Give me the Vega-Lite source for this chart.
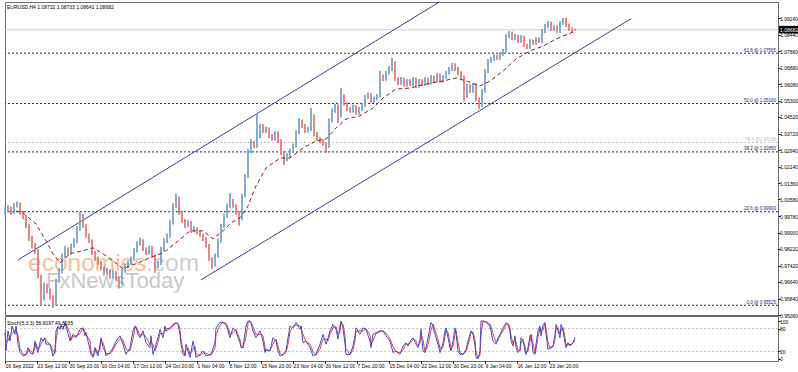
{
"$schema": "https://vega.github.io/schema/vega-lite/v6.json",
"padding": {"left": 2, "top": 1, "right": 0, "bottom": 0},
"background": "#ffffff",
"spacing": 1,
"bounds": "flush",
"config": {
  "view": {"stroke": "#6b6b6b", "strokeWidth": 1},
  "axis": {"labelFont": "Liberation Sans", "labelFontSize": 5, "labelColor": "#000000", "tickColor": "#000000", "tickSize": 2, "domain": false, "grid": false, "labelPadding": -0.5, "labelOverlap": false, "labelBound": false, "labelFlush": false},
  "text": {"font": "Liberation Sans"}
},
"datasets": {
  "px": [
    {"i":0,"o":0.9994,"h":1.0022,"l":0.9985,"c":1.0003},
    {"i":3,"o":1.0003,"h":1.0030,"l":0.9995,"c":1.0018},
    {"i":6,"o":1.0018,"h":1.0025,"l":0.9985,"c":0.9994},
    {"i":9,"o":0.9994,"h":1.0040,"l":0.9988,"c":1.0032},
    {"i":12,"o":1.0032,"h":1.0048,"l":1.0020,"c":1.0037},
    {"i":15,"o":1.0037,"h":1.0042,"l":0.9985,"c":0.9994},
    {"i":18,"o":0.9994,"h":1.0003,"l":0.9965,"c":0.9975},
    {"i":21,"o":0.9975,"h":0.9982,"l":0.9922,"c":0.9932},
    {"i":24,"o":0.9932,"h":0.9940,"l":0.9860,"c":0.9870},
    {"i":27,"o":0.9870,"h":0.9885,"l":0.9825,"c":0.9837},
    {"i":30,"o":0.9837,"h":0.9850,"l":0.9800,"c":0.9813},
    {"i":33,"o":0.9813,"h":0.9820,"l":0.9680,"c":0.9693},
    {"i":36,"o":0.9693,"h":0.9700,"l":0.9551,"c":0.9584},
    {"i":39,"o":0.9584,"h":0.9660,"l":0.9575,"c":0.9646},
    {"i":42,"o":0.9646,"h":0.9655,"l":0.9610,"c":0.9622},
    {"i":45,"o":0.9622,"h":0.9632,"l":0.9580,"c":0.9593},
    {"i":48,"o":0.9593,"h":0.9600,"l":0.9541,"c":0.9560},
    {"i":51,"o":0.9560,"h":0.9680,"l":0.9550,"c":0.9670},
    {"i":54,"o":0.9670,"h":0.9730,"l":0.9660,"c":0.9717},
    {"i":57,"o":0.9717,"h":0.9800,"l":0.9705,"c":0.9789},
    {"i":60,"o":0.9789,"h":0.9835,"l":0.9780,"c":0.9822},
    {"i":63,"o":0.9822,"h":0.9830,"l":0.9790,"c":0.9803},
    {"i":66,"o":0.9803,"h":0.9848,"l":0.9795,"c":0.9837},
    {"i":69,"o":0.9837,"h":0.9872,"l":0.9828,"c":0.9860},
    {"i":72,"o":0.9860,"h":0.9930,"l":0.9850,"c":0.9918},
    {"i":75,"o":0.9918,"h":0.9999,"l":0.9910,"c":0.9980},
    {"i":78,"o":0.9980,"h":0.9990,"l":0.9922,"c":0.9932},
    {"i":81,"o":0.9932,"h":0.9940,"l":0.9875,"c":0.9884},
    {"i":84,"o":0.9884,"h":0.9895,"l":0.9850,"c":0.9860},
    {"i":87,"o":0.9860,"h":0.9868,"l":0.9792,"c":0.9803},
    {"i":90,"o":0.9803,"h":0.9812,"l":0.9765,"c":0.9774},
    {"i":93,"o":0.9774,"h":0.9785,"l":0.9745,"c":0.9755},
    {"i":96,"o":0.9755,"h":0.9765,"l":0.9718,"c":0.9727},
    {"i":99,"o":0.9727,"h":0.9738,"l":0.9695,"c":0.9703},
    {"i":102,"o":0.9703,"h":0.9730,"l":0.9695,"c":0.9717},
    {"i":105,"o":0.9717,"h":0.9725,"l":0.9680,"c":0.9689},
    {"i":108,"o":0.9689,"h":0.9720,"l":0.9680,"c":0.9708},
    {"i":111,"o":0.9708,"h":0.9715,"l":0.9670,"c":0.9679},
    {"i":114,"o":0.9679,"h":0.9690,"l":0.9632,"c":0.9655},
    {"i":117,"o":0.9655,"h":0.9728,"l":0.9648,"c":0.9717},
    {"i":120,"o":0.9717,"h":0.9752,"l":0.9708,"c":0.9741},
    {"i":123,"o":0.9741,"h":0.9768,"l":0.9730,"c":0.9755},
    {"i":126,"o":0.9755,"h":0.9786,"l":0.9745,"c":0.9774},
    {"i":129,"o":0.9774,"h":0.9825,"l":0.9765,"c":0.9813},
    {"i":132,"o":0.9813,"h":0.9858,"l":0.9805,"c":0.9846},
    {"i":135,"o":0.9846,"h":0.9875,"l":0.9838,"c":0.9860},
    {"i":138,"o":0.9860,"h":0.9868,"l":0.9812,"c":0.9822},
    {"i":141,"o":0.9822,"h":0.9830,"l":0.9792,"c":0.9803},
    {"i":144,"o":0.9803,"h":0.9838,"l":0.9795,"c":0.9827},
    {"i":147,"o":0.9827,"h":0.9835,"l":0.9780,"c":0.9789},
    {"i":150,"o":0.9789,"h":0.9795,"l":0.9708,"c":0.9741},
    {"i":153,"o":0.9741,"h":0.9765,"l":0.9730,"c":0.9755},
    {"i":156,"o":0.9755,"h":0.9832,"l":0.9745,"c":0.9822},
    {"i":159,"o":0.9822,"h":0.9872,"l":0.9812,"c":0.9860},
    {"i":162,"o":0.9860,"h":0.9895,"l":0.9850,"c":0.9884},
    {"i":165,"o":0.9884,"h":0.9958,"l":0.9875,"c":0.9946},
    {"i":168,"o":0.9946,"h":1.0040,"l":0.9938,"c":1.0027},
    {"i":171,"o":1.0027,"h":1.0085,"l":1.0018,"c":1.0066},
    {"i":174,"o":1.0066,"h":1.0072,"l":0.9985,"c":0.9994},
    {"i":177,"o":0.9994,"h":1.0003,"l":0.9946,"c":0.9956},
    {"i":180,"o":0.9956,"h":0.9965,"l":0.9922,"c":0.9932},
    {"i":183,"o":0.9932,"h":0.9958,"l":0.9925,"c":0.9946},
    {"i":186,"o":0.9946,"h":0.9955,"l":0.9898,"c":0.9908},
    {"i":189,"o":0.9908,"h":0.9930,"l":0.9900,"c":0.9918},
    {"i":192,"o":0.9918,"h":0.9925,"l":0.9890,"c":0.9899},
    {"i":195,"o":0.9899,"h":0.9908,"l":0.9880,"c":0.9889},
    {"i":198,"o":0.9889,"h":0.9895,"l":0.9860,"c":0.9870},
    {"i":201,"o":0.9870,"h":0.9878,"l":0.9828,"c":0.9837},
    {"i":204,"o":0.9837,"h":0.9845,"l":0.9765,"c":0.9774},
    {"i":207,"o":0.9774,"h":0.9782,"l":0.9727,"c":0.9746},
    {"i":210,"o":0.9746,"h":0.9800,"l":0.9738,"c":0.9789},
    {"i":213,"o":0.9789,"h":0.9872,"l":0.9780,"c":0.9860},
    {"i":216,"o":0.9860,"h":0.9942,"l":0.9850,"c":0.9932},
    {"i":219,"o":0.9932,"h":0.9990,"l":0.9922,"c":0.9980},
    {"i":222,"o":0.9980,"h":1.0038,"l":0.9970,"c":1.0027},
    {"i":225,"o":1.0027,"h":1.0089,"l":1.0018,"c":1.0051},
    {"i":228,"o":1.0051,"h":1.0060,"l":1.0018,"c":1.0027},
    {"i":231,"o":1.0027,"h":1.0035,"l":0.9985,"c":0.9994},
    {"i":234,"o":0.9994,"h":1.0003,"l":0.9932,"c":0.9965},
    {"i":237,"o":0.9965,"h":1.0085,"l":0.9958,"c":1.0075},
    {"i":240,"o":1.0075,"h":1.0180,"l":1.0068,"c":1.0170},
    {"i":243,"o":1.0170,"h":1.0300,"l":1.0160,"c":1.0290},
    {"i":246,"o":1.0290,"h":1.0345,"l":1.0280,"c":1.0328},
    {"i":249,"o":1.0328,"h":1.0338,"l":1.0302,"c":1.0313},
    {"i":252,"o":1.0313,"h":1.0471,"l":1.0305,"c":1.0361},
    {"i":255,"o":1.0361,"h":1.0420,"l":1.0350,"c":1.0409},
    {"i":258,"o":1.0409,"h":1.0418,"l":1.0375,"c":1.0385},
    {"i":261,"o":1.0385,"h":1.0405,"l":1.0375,"c":1.0394},
    {"i":264,"o":1.0394,"h":1.0402,"l":1.0350,"c":1.0361},
    {"i":267,"o":1.0361,"h":1.0370,"l":1.0338,"c":1.0347},
    {"i":270,"o":1.0347,"h":1.0385,"l":1.0338,"c":1.0375},
    {"i":273,"o":1.0375,"h":1.0382,"l":1.0328,"c":1.0337},
    {"i":276,"o":1.0337,"h":1.0345,"l":1.0270,"c":1.0280},
    {"i":279,"o":1.0280,"h":1.0290,"l":1.0223,"c":1.0251},
    {"i":282,"o":1.0251,"h":1.0278,"l":1.0240,"c":1.0266},
    {"i":285,"o":1.0266,"h":1.0300,"l":1.0258,"c":1.0290},
    {"i":288,"o":1.0290,"h":1.0325,"l":1.0282,"c":1.0313},
    {"i":291,"o":1.0313,"h":1.0388,"l":1.0305,"c":1.0375},
    {"i":294,"o":1.0375,"h":1.0447,"l":1.0368,"c":1.0433},
    {"i":297,"o":1.0433,"h":1.0440,"l":1.0400,"c":1.0409},
    {"i":300,"o":1.0409,"h":1.0418,"l":1.0375,"c":1.0385},
    {"i":303,"o":1.0385,"h":1.0405,"l":1.0378,"c":1.0394},
    {"i":306,"o":1.0394,"h":1.0495,"l":1.0385,"c":1.0457},
    {"i":309,"o":1.0457,"h":1.0465,"l":1.0360,"c":1.0371},
    {"i":312,"o":1.0371,"h":1.0380,"l":1.0338,"c":1.0347},
    {"i":315,"o":1.0347,"h":1.0356,"l":1.0328,"c":1.0337},
    {"i":318,"o":1.0337,"h":1.0345,"l":1.0313,"c":1.0323},
    {"i":321,"o":1.0323,"h":1.0332,"l":1.0280,"c":1.0313},
    {"i":324,"o":1.0313,"h":1.0445,"l":1.0305,"c":1.0433},
    {"i":327,"o":1.0433,"h":1.0492,"l":1.0425,"c":1.0481},
    {"i":330,"o":1.0481,"h":1.0515,"l":1.0472,"c":1.0504},
    {"i":333,"o":1.0504,"h":1.0512,"l":1.0423,"c":1.0457},
    {"i":336,"o":1.0457,"h":1.0590,"l":1.0450,"c":1.0552},
    {"i":339,"o":1.0552,"h":1.0560,"l":1.0505,"c":1.0514},
    {"i":342,"o":1.0514,"h":1.0522,"l":1.0480,"c":1.0490},
    {"i":345,"o":1.0490,"h":1.0498,"l":1.0472,"c":1.0481},
    {"i":348,"o":1.0481,"h":1.0510,"l":1.0472,"c":1.0500},
    {"i":351,"o":1.0500,"h":1.0508,"l":1.0462,"c":1.0471},
    {"i":354,"o":1.0471,"h":1.0500,"l":1.0462,"c":1.0490},
    {"i":357,"o":1.0490,"h":1.0520,"l":1.0482,"c":1.0509},
    {"i":360,"o":1.0509,"h":1.0558,"l":1.0500,"c":1.0547},
    {"i":363,"o":1.0547,"h":1.0568,"l":1.0538,"c":1.0557},
    {"i":366,"o":1.0557,"h":1.0565,"l":1.0518,"c":1.0528},
    {"i":369,"o":1.0528,"h":1.0548,"l":1.0520,"c":1.0538},
    {"i":372,"o":1.0538,"h":1.0562,"l":1.0530,"c":1.0552},
    {"i":375,"o":1.0552,"h":1.0671,"l":1.0545,"c":1.0647},
    {"i":378,"o":1.0647,"h":1.0655,"l":1.0624,"c":1.0633},
    {"i":381,"o":1.0633,"h":1.0672,"l":1.0625,"c":1.0662},
    {"i":384,"o":1.0662,"h":1.0695,"l":1.0655,"c":1.0681},
    {"i":387,"o":1.0681,"h":1.0733,"l":1.0672,"c":1.0710},
    {"i":390,"o":1.0710,"h":1.0718,"l":1.0624,"c":1.0633},
    {"i":393,"o":1.0633,"h":1.0642,"l":1.0605,"c":1.0614},
    {"i":396,"o":1.0614,"h":1.0643,"l":1.0606,"c":1.0633},
    {"i":399,"o":1.0633,"h":1.0640,"l":1.0596,"c":1.0604},
    {"i":402,"o":1.0604,"h":1.0633,"l":1.0596,"c":1.0624},
    {"i":405,"o":1.0624,"h":1.0632,"l":1.0600,"c":1.0609},
    {"i":408,"o":1.0609,"h":1.0642,"l":1.0600,"c":1.0633},
    {"i":411,"o":1.0633,"h":1.0640,"l":1.0590,"c":1.0600},
    {"i":414,"o":1.0600,"h":1.0633,"l":1.0592,"c":1.0624},
    {"i":417,"o":1.0624,"h":1.0632,"l":1.0600,"c":1.0609},
    {"i":420,"o":1.0609,"h":1.0642,"l":1.0600,"c":1.0633},
    {"i":423,"o":1.0633,"h":1.0640,"l":1.0605,"c":1.0614},
    {"i":426,"o":1.0614,"h":1.0652,"l":1.0606,"c":1.0643},
    {"i":429,"o":1.0643,"h":1.0650,"l":1.0615,"c":1.0624},
    {"i":432,"o":1.0624,"h":1.0662,"l":1.0616,"c":1.0652},
    {"i":435,"o":1.0652,"h":1.0660,"l":1.0615,"c":1.0624},
    {"i":438,"o":1.0624,"h":1.0652,"l":1.0615,"c":1.0643},
    {"i":441,"o":1.0643,"h":1.0672,"l":1.0635,"c":1.0662},
    {"i":444,"o":1.0662,"h":1.0690,"l":1.0655,"c":1.0681},
    {"i":447,"o":1.0681,"h":1.0710,"l":1.0672,"c":1.0700},
    {"i":450,"o":1.0700,"h":1.0708,"l":1.0672,"c":1.0681},
    {"i":453,"o":1.0681,"h":1.0690,"l":1.0652,"c":1.0662},
    {"i":456,"o":1.0662,"h":1.0670,"l":1.0633,"c":1.0643},
    {"i":459,"o":1.0643,"h":1.0650,"l":1.0528,"c":1.0552},
    {"i":462,"o":1.0552,"h":1.0610,"l":1.0543,"c":1.0600},
    {"i":465,"o":1.0600,"h":1.0608,"l":1.0566,"c":1.0576},
    {"i":468,"o":1.0576,"h":1.0614,"l":1.0568,"c":1.0604},
    {"i":471,"o":1.0604,"h":1.0612,"l":1.0528,"c":1.0538},
    {"i":474,"o":1.0538,"h":1.0546,"l":1.0490,"c":1.0509},
    {"i":477,"o":1.0509,"h":1.0586,"l":1.0500,"c":1.0576},
    {"i":480,"o":1.0576,"h":1.0681,"l":1.0568,"c":1.0671},
    {"i":483,"o":1.0671,"h":1.0729,"l":1.0662,"c":1.0719},
    {"i":486,"o":1.0719,"h":1.0740,"l":1.0710,"c":1.0729},
    {"i":489,"o":1.0729,"h":1.0752,"l":1.0720,"c":1.0743},
    {"i":492,"o":1.0743,"h":1.0750,"l":1.0725,"c":1.0733},
    {"i":495,"o":1.0733,"h":1.0762,"l":1.0725,"c":1.0752},
    {"i":498,"o":1.0752,"h":1.0778,"l":1.0744,"c":1.0767},
    {"i":501,"o":1.0767,"h":1.0848,"l":1.0760,"c":1.0838},
    {"i":504,"o":1.0838,"h":1.0862,"l":1.0828,"c":1.0853},
    {"i":507,"o":1.0853,"h":1.0860,"l":1.0820,"c":1.0829},
    {"i":510,"o":1.0829,"h":1.0848,"l":1.0820,"c":1.0838},
    {"i":513,"o":1.0838,"h":1.0845,"l":1.0805,"c":1.0814},
    {"i":516,"o":1.0814,"h":1.0842,"l":1.0806,"c":1.0833},
    {"i":519,"o":1.0833,"h":1.0840,"l":1.0786,"c":1.0795},
    {"i":522,"o":1.0795,"h":1.0802,"l":1.0776,"c":1.0786},
    {"i":525,"o":1.0786,"h":1.0824,"l":1.0778,"c":1.0814},
    {"i":528,"o":1.0814,"h":1.0822,"l":1.0796,"c":1.0805},
    {"i":531,"o":1.0805,"h":1.0833,"l":1.0796,"c":1.0824},
    {"i":534,"o":1.0824,"h":1.0832,"l":1.0805,"c":1.0814},
    {"i":537,"o":1.0814,"h":1.0872,"l":1.0806,"c":1.0862},
    {"i":540,"o":1.0862,"h":1.0896,"l":1.0853,"c":1.0886},
    {"i":543,"o":1.0886,"h":1.0910,"l":1.0876,"c":1.0900},
    {"i":546,"o":1.0900,"h":1.0908,"l":1.0862,"c":1.0872},
    {"i":549,"o":1.0872,"h":1.0891,"l":1.0862,"c":1.0881},
    {"i":552,"o":1.0881,"h":1.0889,"l":1.0853,"c":1.0862},
    {"i":555,"o":1.0862,"h":1.0910,"l":1.0853,"c":1.0900},
    {"i":558,"o":1.0900,"h":1.0924,"l":1.0891,"c":1.0919},
    {"i":561,"o":1.0919,"h":1.0926,"l":1.0881,"c":1.0891},
    {"i":564,"o":1.0891,"h":1.0898,"l":1.0862,"c":1.0872},
    {"i":567,"o":1.0872,"h":1.0880,"l":1.0853,"c":1.0862},
    {"i":570,"o":1.08732,"h":1.08733,"l":1.08641,"c":1.08682}
  ],
  "ma": [
    {"i":11,"m":1.0003},{"i":18,"m":0.9994},{"i":31,"m":0.9941},{"i":41,"m":0.9860},{"i":48,"m":0.9799},{"i":55,"m":0.9755},{"i":65,"m":0.9799},{"i":78,"m":0.9813},{"i":88,"m":0.9827},{"i":98,"m":0.9799},{"i":108,"m":0.9765},{"i":118,"m":0.9727},{"i":131,"m":0.9751},{"i":145,"m":0.9780},{"i":158,"m":0.9803},{"i":171,"m":0.9851},{"i":185,"m":0.9908},{"i":198,"m":0.9908},{"i":208,"m":0.9870},{"i":218,"m":0.9908},{"i":226,"m":0.9946},{"i":235,"m":0.9970},{"i":243,"m":1.0027},{"i":251,"m":1.0123},{"i":261,"m":1.0208},{"i":275,"m":1.0256},{"i":285,"m":1.0256},{"i":298,"m":1.0304},{"i":311,"m":1.0337},{"i":321,"m":1.0347},{"i":331,"m":1.0399},{"i":341,"m":1.0442},{"i":355,"m":1.0457},{"i":368,"m":1.0495},{"i":378,"m":1.0542},{"i":391,"m":1.0585},{"i":405,"m":1.0590},{"i":421,"m":1.0609},{"i":438,"m":1.0624},{"i":451,"m":1.0638},{"i":461,"m":1.0624},{"i":475,"m":1.0600},{"i":485,"m":1.0624},{"i":498,"m":1.0671},{"i":511,"m":1.0729},{"i":525,"m":1.0767},{"i":538,"m":1.0790},{"i":551,"m":1.0824},{"i":563,"m":1.0848},{"i":570,"m":1.0862}
  ],
  "ch": [
    {"g":"u","i":13,"p":0.9769},{"g":"u","i":435,"p":1.1003},
    {"g":"l","i":196,"p":0.9674},{"g":"l","i":626,"p":1.0921}
  ],
  "fib": [
    {"p":1.07565,"t":"61.8 @ 1.07565","g":"n"},
    {"p":1.0516,"t":"50.0 @ 1.05160","g":"n"},
    {"p":1.03298,"t":"76.4 @1.03298","g":"g"},
    {"p":1.0285,"t":"38.2 @ 1.02850","g":"n"},
    {"p":0.99993,"t":"23.6 @ 0.99993","g":"n"},
    {"p":0.95525,"t":"0.0 @ 0.95525","g":"n"}
  ],
  "st": [
    {"i":0,"k":69,"d":69},{"i":1,"k":21,"d":45},{"i":3,"k":74,"d":48},{"i":5,"k":47,"d":61},{"i":7,"k":87,"d":67},{"i":10,"k":65,"d":76},{"i":11,"k":87,"d":76},{"i":13,"k":39,"d":63},{"i":15,"k":17,"d":28},{"i":18,"k":8,"d":13},{"i":21,"k":12,"d":10},{"i":23,"k":30,"d":21},{"i":25,"k":17,"d":24},{"i":28,"k":12,"d":15},{"i":30,"k":47,"d":30},{"i":31,"k":34,"d":41},{"i":33,"k":17,"d":26},{"i":36,"k":56,"d":37},{"i":38,"k":47,"d":52},{"i":40,"k":56,"d":52},{"i":41,"k":39,"d":48},{"i":45,"k":39,"d":39},{"i":48,"k":8,"d":24},{"i":50,"k":21,"d":15},{"i":51,"k":74,"d":48},{"i":53,"k":87,"d":81},{"i":55,"k":78,"d":83},{"i":56,"k":91,"d":85},{"i":58,"k":78,"d":85},{"i":60,"k":96,"d":87},{"i":61,"k":87,"d":92},{"i":65,"k":47,"d":67},{"i":66,"k":52,"d":50},{"i":68,"k":65,"d":59},{"i":71,"k":56,"d":61},{"i":75,"k":78,"d":67},{"i":78,"k":82,"d":80},{"i":80,"k":61,"d":72},{"i":81,"k":69,"d":65},{"i":85,"k":25,"d":47},{"i":86,"k":12,"d":19},{"i":88,"k":4,"d":8},{"i":90,"k":30,"d":17},{"i":91,"k":21,"d":26},{"i":93,"k":8,"d":15},{"i":95,"k":39,"d":24},{"i":96,"k":56,"d":48},{"i":98,"k":30,"d":43},{"i":100,"k":21,"d":26},{"i":101,"k":8,"d":15},{"i":105,"k":17,"d":13},{"i":108,"k":30,"d":24},{"i":111,"k":47,"d":39},{"i":115,"k":61,"d":54},{"i":118,"k":39,"d":50},{"i":121,"k":12,"d":26},{"i":125,"k":30,"d":21},{"i":128,"k":74,"d":52},{"i":130,"k":87,"d":81},{"i":131,"k":82,"d":85},{"i":133,"k":65,"d":74},{"i":135,"k":56,"d":61},{"i":138,"k":74,"d":65},{"i":141,"k":43,"d":59},{"i":145,"k":30,"d":37},{"i":146,"k":61,"d":46},{"i":148,"k":12,"d":37},{"i":150,"k":30,"d":21},{"i":153,"k":56,"d":43},{"i":155,"k":78,"d":67},{"i":158,"k":56,"d":67},{"i":160,"k":87,"d":72},{"i":161,"k":74,"d":81},{"i":165,"k":82,"d":78},{"i":168,"k":91,"d":87},{"i":171,"k":96,"d":94},{"i":173,"k":91,"d":94},{"i":175,"k":65,"d":78},{"i":176,"k":39,"d":52},{"i":178,"k":12,"d":26},{"i":180,"k":8,"d":10},{"i":181,"k":39,"d":24},{"i":183,"k":21,"d":30},{"i":185,"k":4,"d":13},{"i":188,"k":47,"d":26},{"i":190,"k":21,"d":34},{"i":191,"k":4,"d":13},{"i":195,"k":12,"d":8},{"i":198,"k":21,"d":17},{"i":201,"k":8,"d":15},{"i":206,"k":12,"d":10},{"i":210,"k":43,"d":28},{"i":211,"k":82,"d":63},{"i":215,"k":96,"d":89},{"i":218,"k":96,"d":96},{"i":221,"k":91,"d":94},{"i":223,"k":74,"d":83},{"i":225,"k":56,"d":65},{"i":228,"k":82,"d":69},{"i":231,"k":74,"d":78},{"i":233,"k":56,"d":65},{"i":235,"k":43,"d":50},{"i":236,"k":30,"d":37},{"i":238,"k":30,"d":30},{"i":241,"k":87,"d":59},{"i":243,"k":100,"d":94},{"i":245,"k":100,"d":100},{"i":246,"k":96,"d":98},{"i":248,"k":74,"d":85},{"i":251,"k":56,"d":65},{"i":255,"k":74,"d":65},{"i":258,"k":47,"d":61},{"i":260,"k":17,"d":32},{"i":261,"k":25,"d":21},{"i":265,"k":21,"d":23},{"i":268,"k":56,"d":39},{"i":271,"k":47,"d":52},{"i":273,"k":21,"d":34},{"i":275,"k":8,"d":15},{"i":278,"k":12,"d":10},{"i":281,"k":21,"d":17},{"i":283,"k":56,"d":39},{"i":285,"k":87,"d":72},{"i":288,"k":82,"d":85},{"i":291,"k":96,"d":89},{"i":295,"k":78,"d":87},{"i":296,"k":87,"d":83},{"i":298,"k":43,"d":65},{"i":301,"k":47,"d":45},{"i":305,"k":30,"d":39},{"i":308,"k":8,"d":19},{"i":311,"k":12,"d":10},{"i":315,"k":39,"d":26},{"i":318,"k":65,"d":52},{"i":321,"k":39,"d":52},{"i":323,"k":56,"d":48},{"i":325,"k":74,"d":65},{"i":328,"k":91,"d":83},{"i":331,"k":78,"d":85},{"i":333,"k":52,"d":65},{"i":335,"k":87,"d":70},{"i":336,"k":100,"d":94},{"i":338,"k":82,"d":91},{"i":340,"k":39,"d":61},{"i":341,"k":12,"d":26},{"i":345,"k":12,"d":12},{"i":348,"k":34,"d":23},{"i":350,"k":61,"d":48},{"i":351,"k":82,"d":72},{"i":355,"k":65,"d":74},{"i":358,"k":82,"d":74},{"i":361,"k":78,"d":80},{"i":365,"k":47,"d":63},{"i":366,"k":30,"d":39},{"i":368,"k":65,"d":48},{"i":371,"k":69,"d":67},{"i":375,"k":74,"d":72},{"i":378,"k":74,"d":74},{"i":381,"k":61,"d":68},{"i":385,"k":47,"d":54},{"i":388,"k":17,"d":32},{"i":391,"k":21,"d":19},{"i":395,"k":12,"d":17},{"i":398,"k":34,"d":23},{"i":401,"k":43,"d":39},{"i":403,"k":34,"d":39},{"i":405,"k":47,"d":41},{"i":408,"k":56,"d":52},{"i":411,"k":39,"d":48},{"i":413,"k":30,"d":35},{"i":415,"k":52,"d":41},{"i":416,"k":78,"d":65},{"i":418,"k":21,"d":50},{"i":420,"k":17,"d":19},{"i":423,"k":56,"d":37},{"i":426,"k":96,"d":76},{"i":428,"k":87,"d":92},{"i":430,"k":65,"d":76},{"i":433,"k":39,"d":52},{"i":435,"k":17,"d":28},{"i":438,"k":43,"d":30},{"i":440,"k":74,"d":59},{"i":441,"k":82,"d":78},{"i":443,"k":56,"d":69},{"i":445,"k":30,"d":43},{"i":446,"k":21,"d":26},{"i":448,"k":47,"d":34},{"i":450,"k":82,"d":65},{"i":451,"k":69,"d":76},{"i":453,"k":21,"d":45},{"i":455,"k":12,"d":17},{"i":458,"k":12,"d":12},{"i":461,"k":25,"d":19},{"i":463,"k":47,"d":36},{"i":465,"k":65,"d":56},{"i":466,"k":74,"d":70},{"i":468,"k":65,"d":70},{"i":470,"k":34,"d":50},{"i":471,"k":4,"d":19},{"i":473,"k":0,"d":2},{"i":475,"k":21,"d":11},{"i":476,"k":100,"d":61},{"i":478,"k":100,"d":100},{"i":481,"k":96,"d":98},{"i":485,"k":87,"d":92},{"i":488,"k":47,"d":67},{"i":491,"k":39,"d":43},{"i":493,"k":56,"d":48},{"i":495,"k":65,"d":61},{"i":498,"k":82,"d":74},{"i":501,"k":96,"d":89},{"i":503,"k":91,"d":94},{"i":505,"k":74,"d":83},{"i":506,"k":47,"d":61},{"i":508,"k":34,"d":41},{"i":510,"k":61,"d":48},{"i":511,"k":30,"d":46},{"i":513,"k":17,"d":24},{"i":515,"k":25,"d":21},{"i":516,"k":56,"d":41},{"i":518,"k":47,"d":52},{"i":520,"k":21,"d":34},{"i":521,"k":12,"d":17},{"i":523,"k":30,"d":21},{"i":525,"k":61,"d":46},{"i":526,"k":65,"d":63},{"i":528,"k":17,"d":41},{"i":530,"k":12,"d":15},{"i":531,"k":39,"d":26},{"i":533,"k":74,"d":57},{"i":535,"k":87,"d":81},{"i":536,"k":61,"d":74},{"i":538,"k":91,"d":76},{"i":540,"k":96,"d":94},{"i":541,"k":65,"d":81},{"i":543,"k":25,"d":45},{"i":545,"k":30,"d":28},{"i":548,"k":34,"d":32},{"i":550,"k":65,"d":50},{"i":551,"k":91,"d":78},{"i":553,"k":74,"d":83},{"i":555,"k":56,"d":65},{"i":556,"k":91,"d":74},{"i":558,"k":74,"d":83},{"i":560,"k":43,"d":59},{"i":561,"k":30,"d":37},{"i":563,"k":43,"d":37},{"i":565,"k":34,"d":39},{"i":566,"k":39,"d":37},{"i":568,"k":43,"d":41},{"i":570,"k":56.6,"d":49.8}
  ]
},
"vconcat": [
  {
    "width": 773,
    "height": 313,
    "layer": [
      {
        "data": {"values": [{}]},
        "mark": {"type": "text", "text": "economies", "font": "Liberation Sans", "fontSize": 24.5, "color": "#f6b48a", "opacity": 0.85, "align": "left", "baseline": "alphabetic"},
        "encoding": {
          "x": {"datum": 23, "type": "quantitative", "scale": {"domain": [0, 773], "nice": false, "zero": false}, "axis": null},
          "y": {"datum": 0.9717, "type": "quantitative", "scale": {"domain": [0.9506, 1.1001], "nice": false, "zero": false}, "axis": {"orient": "right", "values": [1.0924, 1.0844, 1.0766, 1.0688, 1.0608, 1.053, 1.0452, 1.0372, 1.0294, 1.0214, 1.0136, 1.0058, 0.9978, 0.99, 0.9822, 0.9742, 0.9664, 0.9584, 0.9506], "tickCount": 40, "format": ".5f", "title": null, "labelOverlap": false}}
        }
      },
      {
        "data": {"values": [{}]},
        "mark": {"type": "text", "text": ".com", "font": "Liberation Sans", "fontSize": 24.5, "color": "#cfcfcf", "align": "left", "baseline": "alphabetic"},
        "encoding": {
          "x": {"datum": 141, "type": "quantitative", "axis": null},
          "y": {"datum": 0.9717, "type": "quantitative"}
        }
      },
      {
        "data": {"values": [{}]},
        "mark": {"type": "text", "text": "FxNewsToday", "font": "Liberation Sans", "fontSize": 22, "color": "#c9c9c9", "align": "left", "baseline": "alphabetic"},
        "encoding": {
          "x": {"datum": 41, "type": "quantitative", "axis": null},
          "y": {"datum": 0.9636, "type": "quantitative"}
        }
      },
      {
        "data": {"values": [{}]},
        "mark": {"type": "rule", "color": "#b9d9dc", "strokeWidth": 1},
        "encoding": {
          "y": {"datum": 1.08682, "type": "quantitative"}
        }
      },
      {
        "data": {"name": "fib"},
        "mark": {"type": "rule", "strokeDash": [2, 2], "strokeWidth": 1},
        "encoding": {
          "y": {"field": "p", "type": "quantitative"},
          "color": {"field": "g", "type": "nominal", "scale": {"domain": ["n", "g"], "range": ["#23237a", "#bdbdbd"]}, "legend": null}
        }
      },
      {
        "data": {"name": "fib"},
        "mark": {"type": "text", "fontSize": 4.5, "align": "right", "baseline": "bottom", "dy": -0.5},
        "encoding": {
          "x": {"datum": 771, "type": "quantitative", "axis": null},
          "y": {"field": "p", "type": "quantitative"},
          "text": {"field": "t"},
          "color": {"field": "g", "type": "nominal", "scale": {"domain": ["n", "g"], "range": ["#23237a", "#bdbdbd"]}, "legend": null}
        }
      },
      {
        "data": {"name": "ch"},
        "mark": {"type": "line", "color": "#3c3c9c", "strokeWidth": 1, "clip": true},
        "encoding": {
          "x": {"field": "i", "type": "quantitative", "axis": null},
          "y": {"field": "p", "type": "quantitative"},
          "detail": {"field": "g"}
        }
      },
      {
        "data": {"name": "px"},
        "mark": {"type": "rule", "strokeWidth": 1.8},
        "encoding": {
          "x": {"field": "i", "type": "quantitative", "axis": null},
          "y": {"field": "l", "type": "quantitative"},
          "y2": {"field": "h"},
          "color": {"condition": {"test": "datum.c >= datum.o", "value": "#7ba3cf"}, "value": "#e47b7b"}
        }
      },
      {
        "data": {"name": "ma"},
        "mark": {"type": "line", "color": "#8b1c1c", "strokeWidth": 1, "strokeDash": [4, 3]},
        "encoding": {
          "x": {"field": "i", "type": "quantitative", "axis": null},
          "y": {"field": "m", "type": "quantitative"}
        }
      },
      {
        "data": {"values": [{}]},
        "mark": {"type": "text", "text": "EURUSD,H4  1.08732 1.08733 1.08641 1.08682", "fontSize": 5, "color": "#000000", "align": "left", "baseline": "middle"},
        "encoding": {
          "x": {"datum": 2, "type": "quantitative", "axis": null},
          "y": {"datum": 1.0977, "type": "quantitative"}
        }
      },
      {
        "data": {"values": [{}]},
        "mark": {"type": "rect", "color": "#000000", "clip": false},
        "encoding": {
          "x": {"datum": 774, "type": "quantitative", "axis": null},
          "x2": {"datum": 795},
          "y": {"datum": 1.0851, "type": "quantitative"},
          "y2": {"datum": 1.0887}
        }
      },
      {
        "data": {"values": [{}]},
        "mark": {"type": "text", "text": "1.08682", "fontSize": 5, "color": "#ffffff", "align": "left", "baseline": "middle", "clip": false},
        "encoding": {
          "x": {"datum": 775, "type": "quantitative", "axis": null},
          "y": {"datum": 1.08682, "type": "quantitative"}
        }
      }
    ]
  },
  {
    "width": 773,
    "height": 45,
    "layer": [
      {
        "data": {"values": [{"v": 20}, {"v": 80}]},
        "mark": {"type": "rule", "color": "#c4c4c4", "strokeDash": [2, 2], "strokeWidth": 1},
        "encoding": {
          "y": {"field": "v", "type": "quantitative", "scale": {"domain": [-5.3, 113.2], "nice": false, "zero": false}, "axis": {"orient": "right", "values": [0, 20, 80, 100], "tickCount": 10, "title": null, "labelOverlap": false}}
        }
      },
      {
        "data": {"name": "st"},
        "mark": {"type": "line", "color": "#d9435f", "strokeWidth": 1},
        "encoding": {
          "x": {"field": "i", "type": "quantitative", "scale": {"domain": [0, 773], "nice": false, "zero": false}, "axis": {"orient": "bottom", "values": [0, 32, 64, 96, 128, 160, 192, 224, 256, 288, 320, 352, 384, 416, 448, 480, 512, 544], "tickCount": 40, "labelExpr": "['16 Sep 2022','23 Sep 12:00','30 Sep 20:00','10 Oct 04:00','17 Oct 12:00','24 Oct 20:00','1 Nov 04:00','8 Nov 12:00','15 Nov 20:00','23 Nov 04:00','30 Nov 12:00','7 Dec 20:00','15 Dec 04:00','22 Dec 12:00','30 Dec 20:00','9 Jan 04:00','16 Jan 12:00','23 Jan 20:00'][round(datum.value/32)]", "labelAlign": "left", "labelFontSize": 5, "labelPadding": 0.5, "tickSize": 2, "title": null, "labelOverlap": false}},
          "y": {"field": "d", "type": "quantitative"}
        }
      },
      {
        "data": {"name": "st"},
        "mark": {"type": "line", "color": "#4a4ac0", "strokeWidth": 1},
        "encoding": {
          "x": {"field": "i", "type": "quantitative"},
          "y": {"field": "k", "type": "quantitative"}
        }
      },
      {
        "data": {"values": [{}]},
        "mark": {"type": "text", "text": "Stoch(5,3,3) 56.6097 49.8035", "fontSize": 5, "color": "#000000", "align": "left", "baseline": "middle"},
        "encoding": {
          "x": {"datum": 2, "type": "quantitative"},
          "y": {"datum": 94.7, "type": "quantitative"}
        }
      }
    ]
  }
]
}
